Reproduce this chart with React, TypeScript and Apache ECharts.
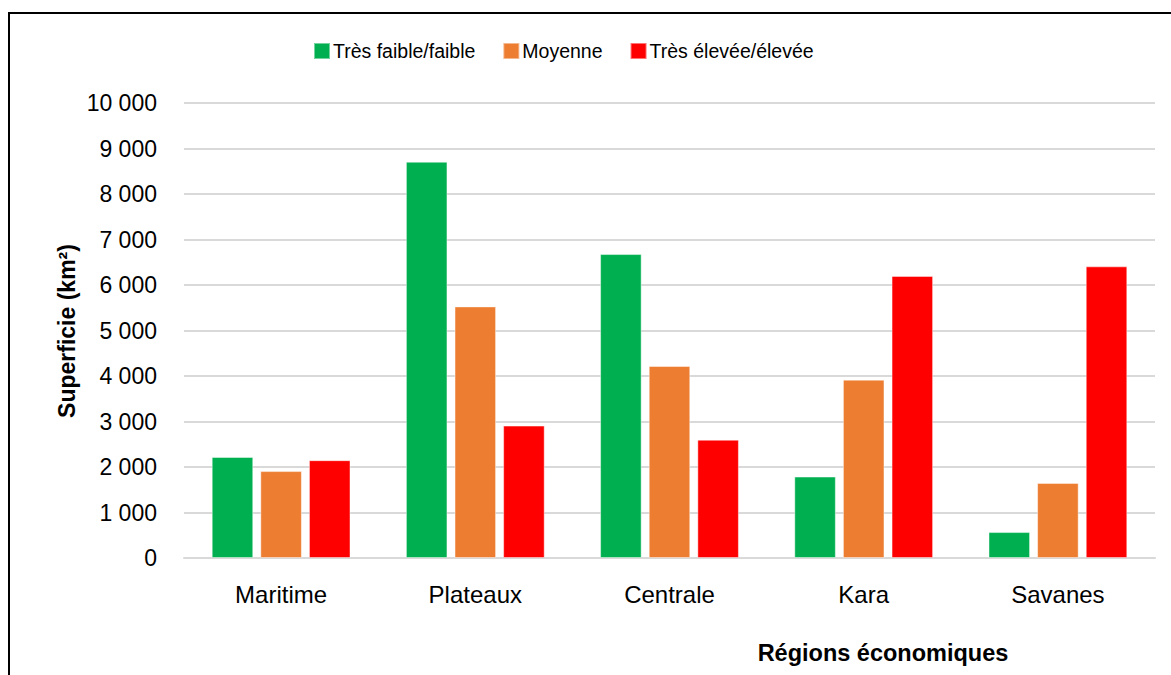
import React, { useEffect, useRef } from "react";
import * as echarts from "echarts";

const categories = ["Maritime", "Plateaux", "Centrale", "Kara", "Savanes"];
const seriesNames = ["Très faible/faible", "Moyenne", "Très élevée/élevée"];
const lowValues = [2220, 8710, 6680, 1790, 570];
const midValues = [1910, 5530, 4220, 3920, 1650];
const highValues = [2150, 2910, 2600, 6200, 6410];
const colors = ["#00B050", "#ED7D31", "#FF0000"];
const yTitle = "Superficie (km²)";
const xTitle = "Régions économiques";

const FONT = "'Liberation Sans', Arial, sans-serif";

const fmt = (v: number) => String(v).replace(/\B(?=(\d{3})+(?!\d))/g, " ");

export default function App() {
  const ref = useRef<HTMLDivElement>(null);
  useEffect(() => {
    if (!ref.current) return;
    const chart = echarts.init(ref.current, null, { renderer: "svg" });
    const data = [lowValues, midValues, highValues];
    chart.setOption({
      animation: false,
      backgroundColor: "#ffffff",
      textStyle: { fontFamily: FONT },
      legend: {
        left: 308,
        top: 36,
        padding: 5,
        itemWidth: 16,
        itemHeight: 16,
        itemGap: 27,
        icon: "rect",
        textStyle: { fontSize: 19.5, color: "#000", fontFamily: FONT, padding: [0, 0, 0, -2] },
        data: seriesNames,
      },
      grid: { left: 184, right: 16, top: 103, bottom: 117, containLabel: false },
      xAxis: {
        type: "category",
        data: categories,
        axisLine: { show: true, lineStyle: { color: "#d9d9d9", width: 2 } },
        axisTick: { show: false },
        axisLabel: { fontSize: 24, color: "#000", margin: 24, fontFamily: FONT },
      },
      yAxis: {
        type: "value",
        min: 0,
        max: 10000,
        interval: 1000,
        axisLine: { show: false },
        axisTick: { show: false },
        splitLine: { lineStyle: { color: "#d9d9d9", width: 2 } },
        axisLabel: { fontSize: 23, color: "#000", margin: 27, fontFamily: FONT, formatter: (v: number) => fmt(v) },
      },
      series: seriesNames.map((name, i) => ({
        name,
        type: "bar",
        data: data[i],
        barWidth: "21.4%",
        barGap: "17%",
        itemStyle: { color: colors[i], borderColor: "rgba(255,255,255,0.45)", borderWidth: 1 },
      })),
      graphic: [
        {
          type: "rect",
          shape: { x: 9, y: 13, width: 1300, height: 900 },
          style: { fill: "none", stroke: "#000", lineWidth: 2 },
          silent: true,
        },
        {
          type: "text",
          x: 67,
          y: 331,
          rotation: Math.PI / 2,
          style: {
            text: yTitle,
            fontSize: 23,
            fontWeight: "bold",
            fontFamily: FONT,
            fill: "#000",
            align: "center",
            verticalAlign: "middle",
          },
        },
        {
          type: "text",
          x: 883,
          y: 653,
          style: {
            text: xTitle,
            fontSize: 23.5,
            fontWeight: "bold",
            fontFamily: FONT,
            fill: "#000",
            align: "center",
            verticalAlign: "middle",
          },
        },
      ],
    });
    return () => chart.dispose();
  }, []);
  return (
    <div
      ref={ref}
      style={{ position: "fixed", left: 0, top: 0, width: 1171, height: 675, background: "#fff" }}
    />
  );
}
